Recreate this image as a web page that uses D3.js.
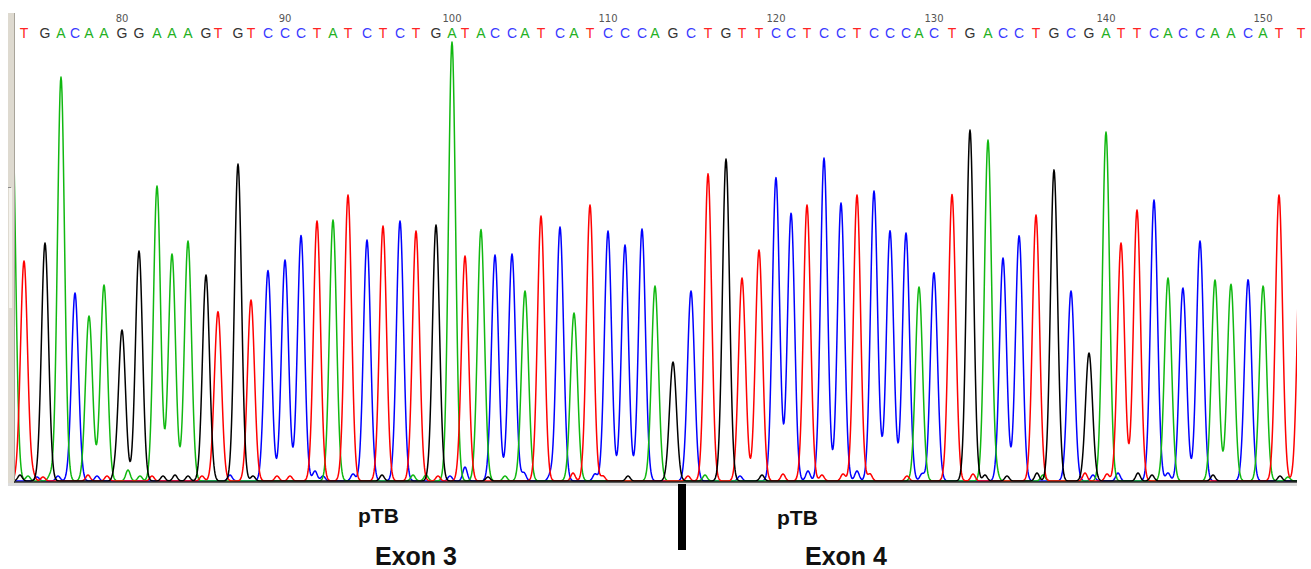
<!DOCTYPE html>
<html>
<head>
<meta charset="utf-8">
<script src="https://cdn.jsdelivr.net/npm/d3@7"></script>
<style>
  body { margin: 0; background: #fff; }
  svg { display: block; }
</style>
</head>
<body>
<svg id="chart" width="1311" height="569"></svg>
<script>
// called bases, one per peak
var bases = "TGACAAGGAAAGTGTCCCTATCTCTGATACCATCATCCCAGCTGTTCCTCCTCCCACTGACCTGCGATTCACCAACATT".split("");
var firstBaseNo = 74;

// peak position (trace points from window start) and signal height, per called base
var peakScan = [10, 31, 47, 61, 75, 90, 108, 125, 143, 158, 174, 192, 204, 224, 237, 254, 271, 287, 303, 319,
  334, 353, 369, 386, 402, 422, 438, 451, 467, 481, 498, 511, 527, 546, 560, 576, 594, 611, 628, 641,
  659, 677, 694, 712, 728, 745, 762, 777, 793, 810, 827, 843, 860, 876, 892, 905, 920, 938, 956, 974,
  989, 1005, 1022, 1040, 1057, 1075, 1092, 1107, 1123, 1140, 1154, 1169, 1186, 1201, 1217, 1234, 1249, 1265, 1287];
var peakHeight = [220, 238, 404, 183, 165, 196, 151, 230, 295, 227, 240, 206, 169, 317, 181, 210, 221, 241, 260, 261,
  286, 241, 255, 260, 250, 256, 439, 225, 246, 226, 227, 190, 265, 254, 168, 276, 250, 236, 247, 190,
  119, 190, 306, 322, 203, 231, 302, 265, 276, 323, 278, 286, 290, 250, 248, 194, 205, 286, 351, 341,
  223, 242, 266, 311, 190, 128, 349, 238, 271, 281, 203, 191, 240, 201, 196, 198, 191, 286, 265];

// tail of the peak just before the window
var leadBase = ["A"];
var leadScan = [-2];
var leadHeight = [380];

// small background bumps
var minorBase = "GATCTACCTCTGAATGGGTTCGCTTCCCCGAATCCAGACCTCTGCATATCGCTCCTTCTCCTCCTTGAGCGAGTCTCGGCCGACAGATACTCCCTTACCATTAC".split("");
var minorScan = [6, 14, 19, 23, 29, 36, 44, 61, 74, 83, 93, 101, 114, 126, 138, 149, 161, 174, 188, 199,
  216, 239, 249, 263, 276, 288, 301, 309, 339, 368, 399, 412, 424, 436, 451, 466, 474, 491, 510, 536,
  559, 581, 589, 614, 628, 641, 674, 691, 698, 726, 748, 758, 769, 780, 794, 808, 829, 843, 856, 868,
  881, 893, 908, 918, 943, 959, 971, 983, 993, 1008, 1023, 1029, 1046, 1071, 1079, 1093, 1104, 1124, 1138, 1154,
  1166, 1199, 1213, 1236, 1251, 1266, 1274];
var minorHeight = [6, 5, 5, 4, 4, 5, 5, 5, 6, 5, 5, 6, 11, 5, 5, 5, 6, 5, 5, 5,
  6, 5, 6, 5, 5, 5, 10, 5, 7, 6, 6, 6, 5, 5, 14, 6, 4, 5, 8, 5,
  8, 7, 5, 5, 5, 5, 5, 6, 6, 5, 6, 7, 7, 7, 10, 6, 7, 10, 7, 5,
  4, 5, 7, 5, 7, 7, 6, 5, 5, 8, 8, 6, 5, 8, 6, 7, 8, 8, 6, 8,
  5, 6, 4, 5, 6, 5, 4];

var baseColor = { A: "#10b810", C: "#0000ff", G: "#000000", T: "#ff0000" };
var letterColor = { A: "#22b022", C: "#3a3aff", G: "#333333", T: "#ff2424" };

var svg = d3.select("#chart");
var plotL = 15, plotR = 1297, plotT = 40, plotB = 481;

var x = d3.scaleLinear().domain([0, 1283]).range([plotL - 1, plotR]);
var y = d3.scaleLinear().domain([0, 441]).range([plotB, plotT]);

// left bar
svg.append("rect").attr("x", 8).attr("y", 13).attr("width", 7).attr("height", 473).attr("fill", "#dedad0");
svg.append("rect").attr("x", 9).attr("y", 188).attr("width", 3).attr("height", 120).attr("fill", "#f4f2ec");
svg.append("line").attr("x1", 14.5).attr("x2", 14.5).attr("y1", 13).attr("y2", 486).attr("stroke", "#a8a49a");
svg.append("line").attr("x1", 8).attr("x2", 11).attr("y1", 187.5).attr("y2", 187.5).attr("stroke", "#888");

// grey strip under the baseline
svg.append("rect").attr("x", 8).attr("y", 483).attr("width", plotR - 8).attr("height", 3).attr("fill", "#dcdcdc");

svg.append("clipPath").attr("id", "plotclip")
  .append("rect").attr("x", plotL).attr("y", 0).attr("width", plotR - plotL).attr("height", plotB + 2);

// build the trace for each dye from its peaks
var peaks = [];
bases.forEach(function(b, i) { peaks.push({ b: b, s: peakScan[i], h: peakHeight[i], w: 3.5 }); });
leadBase.forEach(function(b, i) { peaks.push({ b: b, s: leadScan[i], h: leadHeight[i], w: 3.5 }); });
minorBase.forEach(function(b, i) { peaks.push({ b: b, s: minorScan[i], h: minorHeight[i], w: 2.2 }); });

var line = d3.line().x(function(d) { return x(d[0]); }).y(function(d) { return y(d[1]); });
var g = svg.append("g").attr("clip-path", "url(#plotclip)");

["C", "A", "T", "G"].forEach(function(b) {
  var mine = peaks.filter(function(p) { return p.b === b; });
  var pts = [];
  for (var s = -6; s <= 1300; s += 0.5) {
    var v = 0;
    mine.forEach(function(p) {
      var d = (s - p.s) / p.w;
      if (Math.abs(d) < 6) v += p.h * Math.exp(-0.5 * d * d);
    });
    pts.push([s, v]);
  }
  g.append("path").datum(pts).attr("d", line)
    .attr("fill", "none").attr("stroke", baseColor[b]).attr("stroke-width", 1.5)
    .attr("stroke-linejoin", "round");
});

// baseline
svg.append("line").attr("x1", plotL - 1).attr("x2", plotR).attr("y1", 482).attr("y2", 482)
  .attr("stroke", "#222").attr("stroke-width", 1.6);

// called bases along the top
svg.append("g").selectAll("text").data(bases).enter().append("text")
  .attr("x", function(d, i) { return x(peakScan[i]); })
  .attr("y", 38)
  .attr("text-anchor", "middle")
  .attr("font-family", "Liberation Sans, Arial, sans-serif")
  .attr("font-size", 14)
  .attr("fill", function(d) { return letterColor[d]; })
  .text(function(d) { return d; });

// base numbers every ten
var tickIdx = d3.range(bases.length).filter(function(i) { return (i + firstBaseNo) % 10 === 0; });
svg.append("g").selectAll("text").data(tickIdx).enter().append("text")
  .attr("x", function(i) { return x(peakScan[i]); })
  .attr("y", 22)
  .attr("text-anchor", "middle")
  .attr("font-family", "DejaVu Sans, sans-serif")
  .attr("font-size", 10)
  .attr("fill", "#555")
  .text(function(i) { return i + firstBaseNo; });

// exon junction between base 114 and 115
var jx = x((peakScan[40] + peakScan[41]) / 2);
svg.append("rect").attr("x", jx - 4).attr("y", 484).attr("width", 8).attr("height", 66).attr("fill", "#000");

var labels = svg.append("g").attr("font-family", "Liberation Sans, Arial, sans-serif").attr("font-weight", "bold").attr("fill", "#111");
labels.append("text").attr("x", 358).attr("y", 523).attr("font-size", 21).text("pTB");
labels.append("text").attr("x", 777).attr("y", 525).attr("font-size", 21).text("pTB");
labels.append("text").attr("x", 375).attr("y", 565).attr("font-size", 25).text("Exon 3");
labels.append("text").attr("x", 805).attr("y", 565).attr("font-size", 25).text("Exon 4");
</script>
</body>
</html>
